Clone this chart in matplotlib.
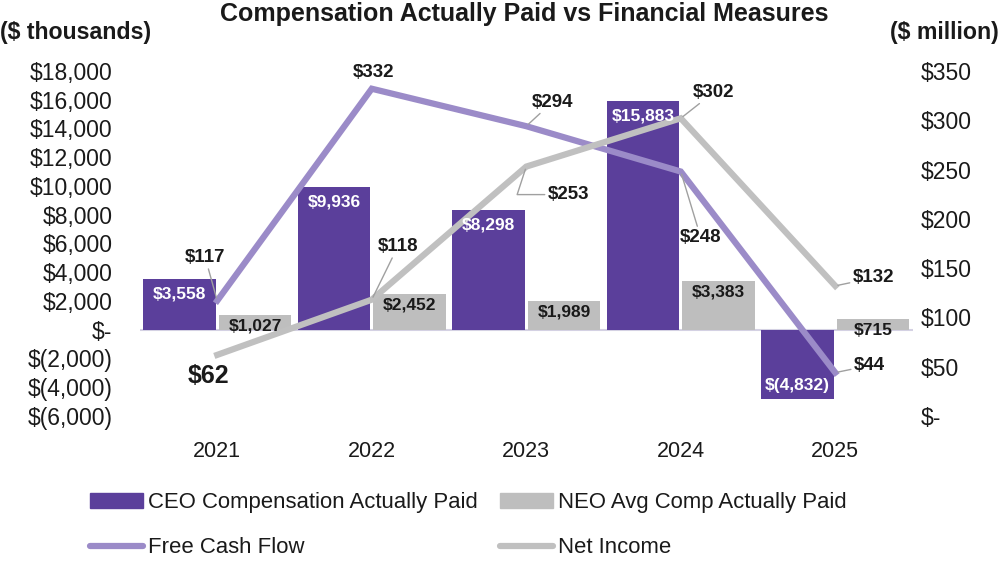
import matplotlib
matplotlib.use("Agg")
import matplotlib.pyplot as plt
import numpy as np
from matplotlib.patches import Patch
from matplotlib.lines import Line2D

plt.rcParams['font.family'] = ['Liberation Sans', 'DejaVu Sans']

years = ['2021', '2022', '2023', '2024', '2025']
ceo_cap = [3558, 9936, 8298, 15883, -4832]
neo_cap = [1027, 2452, 1989, 3383, 715]
fcf = [117, 332, 294, 248, 44]
net_income = [62, 118, 253, 302, 132]

C_CEO = '#5B3F9B'
C_NEO = '#BEBEBE'
C_FCF = '#9B8BC8'
C_NI = '#C0C0C0'
C_LEAD = '#A0A0A0'
C_TXT = '#1A1A1A'

def fmt_k(v):
    if v == 0:
        return '$-'
    if v < 0:
        return '$({:,})'.format(-v)
    return '${:,}'.format(v)

fig = plt.figure(figsize=(10, 5.62), dpi=100)
ax = fig.add_axes([0.140, 0.2598, 0.7725, 0.6139])
ax2 = ax.twinx()

x = np.arange(len(years))
w = 0.47
ax.bar(x - 0.245, ceo_cap, w, color=C_CEO, zorder=2)
ax.bar(x + 0.245, neo_cap, w, color=C_NEO, zorder=2)
ax.axhline(0, color='#D4D1E3', lw=1.5, zorder=1)

ax.set_xlim(-0.5, 4.5)
ax.set_ylim(-6000, 18000)
lt = list(range(-6000, 18001, 2000))
ax.set_yticks(lt)
ax.set_yticklabels([fmt_k(v) for v in lt], fontsize=16.5, color=C_TXT)
ax.set_xticks(x)
ax.set_xticklabels(years, fontsize=15.5, color=C_TXT)
ax.tick_params(axis='y', length=0, pad=20)
ax.tick_params(axis='x', length=0, pad=18)

ax2.set_ylim(0, 350)
rt = list(range(0, 351, 50))
ax2.set_yticks(rt)
ax2.set_yticklabels(['$-' if v == 0 else '${}'.format(v) for v in rt], fontsize=16.5, color=C_TXT)
ax2.tick_params(axis='y', length=0, pad=6)

for a in (ax, ax2):
    for s in a.spines.values():
        s.set_visible(False)

ax2.plot(x, fcf, color=C_FCF, lw=4.5, solid_joinstyle='miter', zorder=2)
ax2.plot(x, net_income, color=C_NI, lw=4.5, solid_joinstyle='miter', zorder=2)

# bar labels
for i, v in enumerate(ceo_cap):
    off = -15 if v >= 0 else 14
    ax2.annotate(fmt_k(v), xy=(x[i] - 0.245, v), xycoords=ax.transData,
                 xytext=(0, off), textcoords='offset pixels',
                 ha='center', va='center', fontsize=12.5, fontweight='bold',
                 color='white', zorder=5)
for i, v in enumerate(neo_cap):
    ax2.annotate(fmt_k(v), xy=(x[i] + 0.245, v), xycoords=ax.transData,
                 xytext=(0, -11), textcoords='offset pixels',
                 ha='center', va='center', fontsize=12.5, fontweight='bold',
                 color=C_TXT, zorder=5)

# line labels
LS = 13.5
fcf_off = [(-12, 43), (2, 16), (26, 24), (20, -66), (34, 7)]
fcf_arrow = [True, False, True, True, True]
for i, v in enumerate(fcf):
    ap = dict(arrowstyle='-', color=C_LEAD, lw=1, shrinkA=0, shrinkB=2) if fcf_arrow[i] else None
    ax2.annotate('${}'.format(v), xy=(x[i], v), xytext=fcf_off[i],
                 textcoords='offset pixels', ha='center', va='center',
                 fontsize=LS, fontweight='bold', color=C_TXT,
                 arrowprops=ap, zorder=5)

ni_off = [(-9, -21), (26, 53), (42, -28), (33, 26), (38, 8)]
for i, v in enumerate(net_income):
    if i == 0:
        ax2.annotate('${}'.format(v), xy=(x[i], v), xytext=ni_off[i],
                     textcoords='offset pixels', ha='center', va='center',
                     fontsize=18, fontweight='bold', color=C_TXT, zorder=5)
        continue
    if i == 2:
        ap = dict(arrowstyle='-', color=C_LEAD, lw=1, shrinkA=0, shrinkB=2,
                  connectionstyle='angle,angleA=0,angleB=72,rad=0')
    else:
        ap = dict(arrowstyle='-', color=C_LEAD, lw=1, shrinkA=0, shrinkB=2)
    ax2.annotate('${}'.format(v), xy=(x[i], v), xytext=ni_off[i],
                 textcoords='offset pixels', ha='center', va='center',
                 fontsize=LS, fontweight='bold', color=C_TXT,
                 arrowprops=ap, zorder=5)

fig.text(0.524, 1 - 14 / 562, 'Compensation Actually Paid vs Financial Measures',
         ha='center', va='center', fontsize=18, fontweight='bold', color=C_TXT)
fig.text(0.0, 1 - 33 / 562, '($ thousands)', ha='left', va='center',
         fontsize=16.7, fontweight='bold', color=C_TXT)
fig.text(0.999, 1 - 33 / 562, '($ million)', ha='right', va='center',
         fontsize=16.7, fontweight='bold', color=C_TXT)

handles = [Patch(color=C_CEO), Line2D([0], [0], color=C_FCF, lw=4.5, solid_capstyle='round'),
           Patch(color=C_NEO), Line2D([0], [0], color=C_NI, lw=4.5, solid_capstyle='round')]
labels = ['CEO Compensation Actually Paid', 'Free Cash Flow',
          'NEO Avg Comp Actually Paid', 'Net Income']
fig.legend(handles, labels, ncol=2, loc='upper left', bbox_to_anchor=(0.090, 1 - 492 / 562),
           frameon=False, fontsize=15.9, handlelength=2.4, handletextpad=0.22,
           columnspacing=1.0, labelspacing=1.1, borderpad=0, borderaxespad=0,
           labelcolor=C_TXT)

fig.savefig('out.png', dpi=100)
